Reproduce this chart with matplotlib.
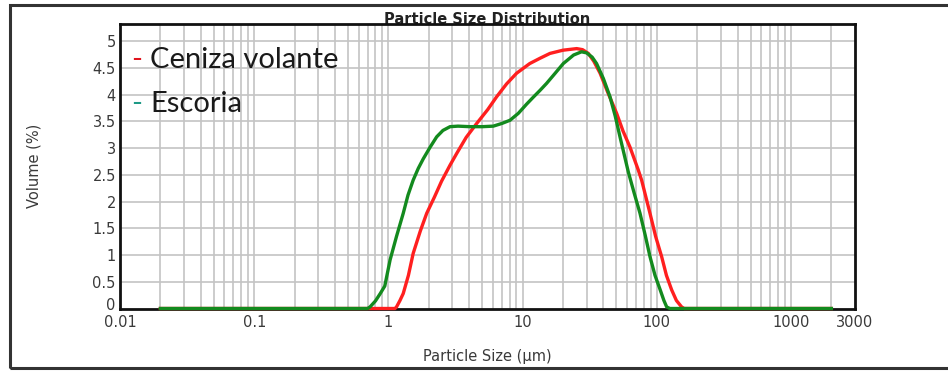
import matplotlib
matplotlib.use('Agg')
import matplotlib.pyplot as plt
import matplotlib.transforms as mtransforms
from matplotlib.patches import Rectangle

# particle size (um) and volume (%)
escoria_size = [0.02, 0.70, 0.73, 0.80, 0.87, 0.94, 1.03, 1.15, 1.29, 1.40, 1.53, 1.67,
                1.82, 2.05, 2.29, 2.55, 2.88, 3.3, 4.06, 5.0, 6.05, 7.0, 8.06, 9.3,
                10.7, 12.0, 13.5, 15.1, 17.5, 20.1, 24.0, 27.5, 30.0, 33.0, 35.6, 40.0,
                44.8, 49.0, 53.2, 61.4, 68.0, 75.0, 82.0, 89.0, 97.0, 106.0, 113.0,
                118.5, 125.0, 2000.0]
escoria_vol = [0.0, 0.0, 0.03, 0.14, 0.28, 0.42, 0.91, 1.35, 1.78, 2.12, 2.40, 2.62,
               2.80, 3.02, 3.21, 3.33, 3.40, 3.41, 3.40, 3.40, 3.41, 3.46, 3.52, 3.65,
               3.82, 3.95, 4.08, 4.21, 4.40, 4.58, 4.74, 4.80, 4.78, 4.70, 4.58, 4.30,
               3.96, 3.60, 3.21, 2.55, 2.15, 1.78, 1.37, 0.97, 0.62, 0.35, 0.15,
               0.03, 0.0, 0.0]

ceniza_size = [0.02, 1.12, 1.15, 1.22, 1.29, 1.41, 1.53, 1.73, 1.93, 2.20, 2.49, 2.88,
               3.23, 3.80, 4.55, 5.50, 6.41, 7.60, 9.03, 11.3, 13.5, 16.0, 20.0, 25.3,
               28.0, 30.9, 34.0, 37.8, 43.0, 50.2, 56.0, 63.1, 72.8, 77.1, 89.0, 98.0,
               108.7, 118.0, 129.0, 140.0, 153.0, 160.0, 2000.0]
ceniza_vol = [0.0, 0.0, 0.03, 0.15, 0.28, 0.62, 1.03, 1.45, 1.78, 2.08, 2.38, 2.68,
              2.90, 3.20, 3.46, 3.72, 3.96, 4.20, 4.40, 4.58, 4.68, 4.77, 4.83, 4.86,
              4.84, 4.77, 4.62, 4.40, 4.05, 3.65, 3.32, 3.02, 2.59, 2.40, 1.78, 1.35,
              0.97, 0.62, 0.35, 0.15, 0.03, 0.0, 0.0]

x_ticks = [0.01, 0.1, 1, 10, 100, 1000, 3000]
x_tick_labels = ['0.01', '0.1', '1', '10', '100', '1000', '3000']
y_ticks = [0, 0.5, 1, 1.5, 2, 2.5, 3, 3.5, 4, 4.5, 5]
y_tick_labels = ['0', '0.5', '1', '1.5', '2', '2.5', '3', '3.5', '4', '4.5', '5']

W, H = 948, 372
fig = plt.figure(figsize=(W / 100, H / 100), dpi=100)
ax = fig.add_axes([120 / W, 1 - 308.5 / H, 735 / W, 284.5 / H])

# grid lines at every 1..9 x decade between 0.02 and 2000
grid_x = [m * 10.0 ** e for e in range(-2, 4) for m in range(1, 10)]
grid_x = [g for g in grid_x if 0.019 < g < 2001]
for g in grid_x:
    ax.axvline(g, color='#c4c4c4', lw=1.2, zorder=1)
for t in y_ticks[1:]:
    ax.axhline(t, color='#c4c4c4', lw=1.2, zorder=1)

ax.plot(ceniza_size, ceniza_vol, color='#ff1f1f', lw=2.4, zorder=4, clip_on=False,
        solid_joinstyle='round')
ax.plot(escoria_size, escoria_vol, color='#138a1e', lw=2.4, zorder=5, clip_on=False,
        solid_joinstyle='round')

ax.set_xscale('log')
ax.set_xlim(0.01, 3000)
ax.set_ylim(0, 5.32)
ax.set_xticks(x_ticks)
ax.set_xticklabels(x_tick_labels)
ax.xaxis.set_minor_locator(matplotlib.ticker.NullLocator())
ax.set_yticks(y_ticks)
ax.set_yticklabels(y_tick_labels)
ax.tick_params(length=0, labelsize=10.5, colors='#3a3a3a')
ax.tick_params(axis='x', pad=5)
ax.tick_params(axis='y', pad=3)
# nudge the "0" label up so it does not sit on "0.01"
zero_lbl = ax.get_yticklabels()[0]
zero_lbl.set_transform(zero_lbl.get_transform() +
                       mtransforms.ScaledTranslation(0, 4 / 100, fig.dpi_scale_trans))
for s in ax.spines.values():
    s.set_color('#111111')
    s.set_linewidth(2)
    s.set_zorder(3)

ax.set_xlabel('Particle Size (\u00b5m)', fontsize=10.5, color='#3a3a3a', labelpad=13)
ax.set_ylabel('Volume (%)', fontsize=10.5, color='#3a3a3a', labelpad=37)

ax.text(0.5, 1.0, 'Particle Size Distribution', transform=ax.transAxes,
        ha='center', va='baseline', fontsize=10.5, fontweight='bold', color='#222222')

# legend written as coloured dashes plus text
fig.text(131 / W, 1 - 68 / H, '-', fontsize=21, family='Lato', color='#e0141e', va='baseline')
fig.text(150 / W, 1 - 68 / H, 'Ceniza volante', fontsize=21, family='Lato', color='#1a1a1a', va='baseline')
fig.text(131 / W, 1 - 112 / H, '-', fontsize=21, family='Lato', color='#1e9a86', va='baseline')
fig.text(150 / W, 1 - 112 / H, 'Escoria', fontsize=21, family='Lato', color='#1a1a1a', va='baseline')

# outer frame of the original screenshot
fig.patches.append(Rectangle((10 / W, 4 / H), 1.1, 1 - 9 / H, transform=fig.transFigure,
                             fill=False, edgecolor='#333333', lw=2.2))

fig.savefig('out.png', dpi=100)
